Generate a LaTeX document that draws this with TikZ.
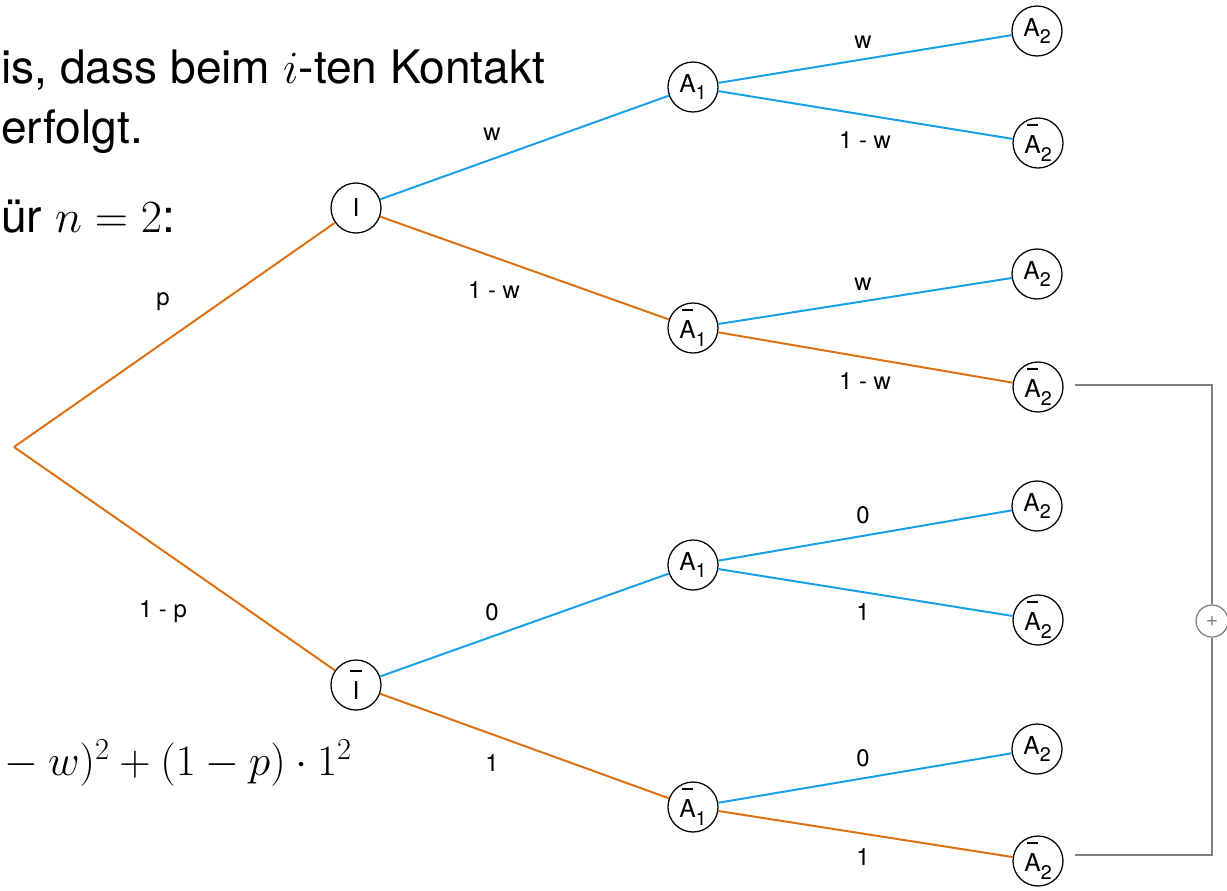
\RequirePackage{fix-cm}
\documentclass[tikz,border=0pt]{standalone}
\usepackage{fontspec}
\setmainfont{TeX Gyre Heros}
\usetikzlibrary{calc}
\definecolor{eblue}{RGB}{22,160,232}
\definecolor{eorange}{RGB}{222,112,16}
\definecolor{cgray}{RGB}{128,128,128}
\newcommand{\bartxt}[1]{\ooalign{\hidewidth\raisebox{1.15em}{\rule{0.45em}{0.06em}}\hidewidth\cr#1\cr}}
\newcommand{\sbs}[1]{\raisebox{-0.32em}{\fontsize{14}{14}\selectfont #1}}
\begin{document}
\begin{tikzpicture}[x=0.025cm,y=-0.025cm,
  st/.style={circle,draw,line width=0.9pt,minimum size=1.25cm,inner sep=0pt,font=\fontsize{17.5}{18}\selectfont},
  eb/.style={draw=eblue,line width=1.4pt},
  eo/.style={draw=eorange,line width=1.4pt},
  lab/.style={font=\fontsize{17}{18}\selectfont,inner sep=0pt},
  big/.style={font=\fontsize{32.8}{36}\selectfont,inner sep=0pt,anchor=base west},
  cg/.style={draw=cgray,line width=0.9pt}
]
\useasboundingbox (0,0) rectangle (1227,890);
% text
\node[big] (t1) at (1,83) {is, dass beim $i$-ten Kontakt};
\node[big] (t2) at (1,143) {erfolgt.};
\node[big] (t3) at (1,232) {ür $n = 2$:};
\node[big,anchor=base east] (t4) at (352,775) {\resizebox{8.675cm}{!}{$-\mskip\medmuskip w)^2 + (1-p)\cdot 1^2$}};
% nodes
\coordinate (r) at (14,447);
\node[st] (I) at (356,208) {I};
\node[st] (Ib) at (356,685) {\bartxt{I}};
\node[st] (a1) at (693,87) {A\sbs{1}};
\node[st] (a1b) at (693,328) {\bartxt{A}\sbs{1}};
\node[st] (a2) at (693,565) {A\sbs{1}};
\node[st] (a2b) at (693,807) {\bartxt{A}\sbs{1}};
\node[st] (l1) at (1037,31) {A\sbs{2}};
\node[st] (l2) at (1038,143) {\bartxt{A}\sbs{2}};
\node[st] (l3) at (1037,274) {A\sbs{2}};
\node[st] (l4) at (1038,387) {\bartxt{A}\sbs{2}};
\node[st] (l5) at (1037,506) {A\sbs{2}};
\node[st] (l6) at (1038,620) {\bartxt{A}\sbs{2}};
\node[st] (l7) at (1037,749) {A\sbs{2}};
\node[st] (l8) at (1038,861) {\bartxt{A}\sbs{2}};
% edges
\draw[eo] (r) -- (I);
\draw[eo] (r) -- (Ib);
\draw[eb] (I) -- (a1);
\draw[eo] (I) -- (a1b);
\draw[eb] (Ib) -- (a2);
\draw[eo] (Ib) -- (a2b);
\draw[eb] (a1) -- (l1);
\draw[eb] (a1) -- (l2);
\draw[eb] (a1b) -- (l3);
\draw[eo] (a1b) -- (l4);
\draw[eb] (a2) -- (l5);
\draw[eb] (a2) -- (l6);
\draw[eb] (a2b) -- (l7);
\draw[eo] (a2b) -- (l8);
% labels
\node[lab] (p1) at (163,302) {p};
\node[lab] (p2) at (163,612) {1 - p};
\node[lab] (m1) at (492,134) {w};
\node[lab] (m2) at (494,290) {1 - w};
\node[lab] (m3) at (492,612) {0};
\node[lab] (m4) at (492,763) {1};
\node[lab] (n1) at (863,42) {w};
\node[lab] (n2) at (865,140) {1 - w};
\node[lab] (n3) at (863,284) {w};
\node[lab] (n4) at (865,381) {1 - w};
\node[lab] (n5) at (863,515) {0};
\node[lab] (n6) at (863,612) {1};
\node[lab] (n7) at (863,758) {0};
\node[lab] (n8) at (863,857) {1};
% sum
\node[circle,cg,minimum size=0.8cm,inner sep=0pt,text=cgray,font=\fontsize{15}{15}\selectfont] (plus) at (1212,621) {+};
\draw[cg] ($(l4.east)+(11,-2)$) -| (plus.north);
\draw[cg] ($(l8.east)+(11,-6)$) -| (plus.south);
\end{tikzpicture}
\end{document}
